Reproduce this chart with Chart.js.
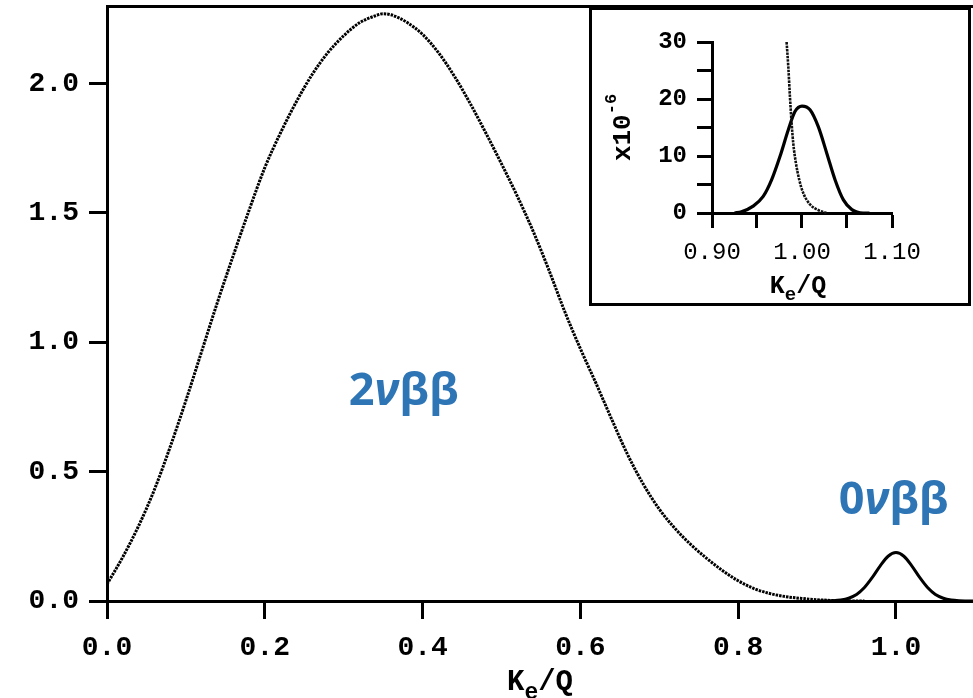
<!DOCTYPE html>
<html><head><meta charset="utf-8">
<script src="https://cdn.jsdelivr.net/npm/chart.js@4.4.1/dist/chart.umd.min.js"></script>
<style>
html,body{margin:0;padding:0;background:#fff;overflow:hidden;}
#wrap{position:relative;width:973px;height:698px;background:#fff;}
#main{position:absolute;left:0;top:0;}
#insetBox{position:absolute;left:589px;top:7px;width:382px;height:299px;border:3px solid #000;box-sizing:border-box;background:#fff;}
#inset{position:absolute;left:0;top:0;}
</style></head><body>
<div id="wrap">
<canvas id="main" width="973" height="698"></canvas>
<div id="insetBox"><canvas id="inset" width="376" height="293"></canvas></div>
</div>
<script>
// ---- main plot data (Ke/Q, arbitrary units) ----
const mainKe = [0,0.02,0.04,0.06,0.08,0.10,0.12,0.14,0.16,0.18,0.20,0.22,0.24,0.26,0.28,0.30,0.32,0.34,0.35,0.36,0.38,0.40,0.42,0.44,0.46,0.48,0.50,0.52,0.54,0.56,0.58,0.60,0.62,0.64,0.66,0.68,0.70,0.72,0.74,0.76,0.78,0.80,0.82,0.84,0.86,0.88,0.90,0.92,0.94,0.96];
const twoNuMain = [0.065,0.17,0.29,0.43,0.595,0.775,0.965,1.155,1.335,1.51,1.675,1.81,1.93,2.035,2.12,2.185,2.235,2.262,2.27,2.266,2.237,2.19,2.12,2.03,1.925,1.81,1.69,1.565,1.43,1.28,1.12,0.975,0.84,0.70,0.565,0.45,0.355,0.28,0.218,0.165,0.118,0.078,0.048,0.029,0.017,0.010,0.005,0.002,0.0005,0];
const zeroNuKe = [0.90,0.91,0.92,0.93,0.94,0.95,0.96,0.97,0.98,0.99,1.00,1.01,1.02,1.03,1.04,1.05,1.06,1.07,1.08,1.09,1.10];
const zeroNuMain = [0,0.0003,0.001,0.0037,0.0105,0.025,0.052,0.091,0.136,0.173,0.187,0.173,0.136,0.091,0.052,0.025,0.0105,0.0037,0.001,0.0003,0];
const mainXTicks = [0,0.2,0.4,0.6,0.8,1.0];
const mainYTicks = [0,0.5,1.0,1.5,2.0];

// ---- inset data (x10^-6) ----
const insetTwoNuKe = [0.9829,0.9848,0.9866,0.9885,0.9903,0.9933,0.9970,1.0014,1.0089,1.0182,1.0275];
const insetTwoNu = [30,25.6,20.4,15.7,12.2,8.7,5.8,3.5,1.5,0.5,0];
const insetZeroNuKe = [0.925,0.9327,0.9457,0.9569,0.9662,0.9755,0.9848,0.9922,1.0,1.0089,1.0182,1.0275,1.0368,1.046,1.0554,1.068,1.075];
const insetZeroNu = [0,0.2,1.2,2.9,5.8,9.9,14.6,17.8,18.75,18.1,15.1,10.5,5.8,2.3,0.6,0,0];
const insetXTicks = [0.90,0.95,1.00,1.05,1.10];
const insetXTickLabels = ['0.90','','1.00','','1.10'];
const insetYTicks = [0,5,10,15,20,25,30];
const insetYTickLabels = ['0','','10','','20','','30'];

// ---- text annotations (data coordinates) ----
const peakLabelText = [['2','ν','ββ'],['0','ν','ββ']];
const peakLabelKe = [0.376, 0.997];
const peakLabelY = [0.758, 0.336];

const MONO = '"Liberation Mono", "Courier New", monospace';
const pts = (xs, ys) => xs.map((x, i) => ({x: x, y: ys[i]}));
const noPad = s => { s.paddingTop = 0; s.paddingBottom = 0; s.paddingLeft = 0; s.paddingRight = 0; };

function drawKeQ(ctx, cx, baseline, big, small, drop) {
  const parts = [
    {t:'K', f:'bold ' + big + 'px ' + MONO, dy:0},
    {t:'e', f:'bold ' + small + 'px ' + MONO, dy:drop},
    {t:'/Q', f:'bold ' + big + 'px ' + MONO, dy:0}
  ];
  let w = 0;
  parts.forEach(p => { ctx.font = p.f; p.w = ctx.measureText(p.t).width; w += p.w; });
  let x = cx - w / 2;
  ctx.textAlign = 'left'; ctx.textBaseline = 'alphabetic';
  parts.forEach(p => { ctx.font = p.f; ctx.fillText(p.t, x, baseline + p.dy); x += p.w; });
}

const mainTextPlugin = {
  id: 'mainText',
  afterDraw(chart) {
    const ctx = chart.ctx, xs = chart.scales.x, ys = chart.scales.y, ca = chart.chartArea;
    ctx.save();
    ctx.fillStyle = '#000';
    drawKeQ(ctx, (ca.left + ca.right) / 2, ca.bottom + 89, 29, 23, 9);
    ctx.fillStyle = '#2E75B6';
    peakLabelText.forEach((parts, i) => {
      const fonts = ['bold 45px "Open Sans"', 'italic bold 45px "Open Sans"', 'bold 45px "Open Sans"'];
      let w = 0; const ws = [];
      parts.forEach((t, j) => { ctx.font = fonts[j]; ws[j] = ctx.measureText(t).width; w += ws[j]; });
      let x = xs.getPixelForValue(peakLabelKe[i]) - w / 2;
      const y = ys.getPixelForValue(peakLabelY[i]);
      ctx.textAlign = 'left'; ctx.textBaseline = 'alphabetic';
      parts.forEach((t, j) => { ctx.font = fonts[j]; ctx.fillText(t, x, y); x += ws[j]; });
    });
    ctx.restore();
  }
};

new Chart(document.getElementById('main'), {
  type: 'scatter',
  data: { datasets: [
    { data: pts(mainKe, twoNuMain), showLine: true, borderColor: '#000', borderWidth: 3, borderDash: [2.5, 1], pointRadius: 0, cubicInterpolationMode: 'monotone', fill: false },
    { data: pts(zeroNuKe, zeroNuMain), showLine: true, borderColor: '#000', borderWidth: 3, pointRadius: 0, cubicInterpolationMode: 'monotone', fill: false }
  ]},
  options: {
    responsive: false, animation: false, devicePixelRatio: 1,
    layout: { padding: { left: 0, right: 0, top: 6, bottom: 0 } },
    plugins: { legend: { display: false }, tooltip: { enabled: false } },
    scales: {
      x: {
        type: 'linear', position: 'bottom', min: 0, max: 1.0976,
        afterBuildTicks: s => { s.ticks = mainXTicks.map(v => ({ value: v })); },
        ticks: { callback: v => Number(v).toFixed(1), font: { family: MONO, size: 28, weight: 'bold' }, color: '#000', padding: 12, maxRotation: 0, autoSkip: false },
        grid: { drawOnChartArea: false, drawTicks: true, tickLength: 18, tickWidth: 3, tickColor: '#000' },
        border: { display: true, color: '#000', width: 3 },
        afterFit: s => { s.height = 97; noPad(s); }
      },
      xTop: {
        type: 'linear', position: 'top', min: 0, max: 1.0976,
        ticks: { display: false }, grid: { display: false },
        border: { display: true, color: '#000', width: 3 },
        afterFit: s => { s.height = 0; noPad(s); }
      },
      y: {
        type: 'linear', position: 'left', min: 0, max: 2.3,
        afterBuildTicks: s => { s.ticks = mainYTicks.map(v => ({ value: v })); },
        ticks: { callback: v => Number(v).toFixed(1), font: { family: MONO, size: 28, weight: 'bold' }, color: '#000', padding: 10 },
        grid: { drawOnChartArea: false, drawTicks: true, tickLength: 18, tickWidth: 3, tickColor: '#000' },
        border: { display: true, color: '#000', width: 3 },
        afterFit: s => { s.width = 107; noPad(s); }
      }
    }
  },
  plugins: [mainTextPlugin]
});

const insetTextPlugin = {
  id: 'insetText',
  afterDraw(chart) {
    const ctx = chart.ctx, ca = chart.chartArea;
    ctx.save();
    ctx.fillStyle = '#000';
    drawKeQ(ctx, (ca.left + ca.right) / 2 - 4, ca.bottom + 80, 25, 19, 7);
    // rotated y title x10^-6
    ctx.translate(38, (ca.top + ca.bottom) / 2);
    ctx.rotate(-Math.PI / 2);
    ctx.textBaseline = 'alphabetic'; ctx.textAlign = 'left';
    const f1 = 'bold 26px ' + MONO, f2 = 'bold 17px ' + MONO;
    ctx.font = f1; const w1 = ctx.measureText('x10').width;
    ctx.font = f2; const w2 = ctx.measureText('-6').width;
    const x0 = -(w1 + w2) / 2;
    ctx.font = f1; ctx.fillText('x10', x0, 0);
    ctx.font = f2; ctx.fillText('-6', x0 + w1, -14);
    ctx.restore();
  }
};

new Chart(document.getElementById('inset'), {
  type: 'scatter',
  data: { datasets: [
    { data: pts(insetTwoNuKe, insetTwoNu), showLine: true, borderColor: '#111', borderWidth: 2.6, borderDash: [2.5, 1], pointRadius: 0, cubicInterpolationMode: 'monotone', fill: false, clip: false },
    { data: pts(insetZeroNuKe, insetZeroNu), showLine: true, borderColor: '#000', borderWidth: 3.2, pointRadius: 0, cubicInterpolationMode: 'monotone', fill: false, clip: false }
  ]},
  options: {
    responsive: false, animation: false, devicePixelRatio: 1,
    layout: { padding: { left: 0, right: 76, top: 32, bottom: 0 } },
    plugins: { legend: { display: false }, tooltip: { enabled: false } },
    scales: {
      x: {
        type: 'linear', position: 'bottom', min: 0.9, max: 1.1,
        afterBuildTicks: s => { s.ticks = insetXTicks.map(v => ({ value: v })); },
        ticks: { callback: (v, i) => insetXTickLabels[i], font: { family: MONO, size: 24, weight: 'normal' }, color: '#000', padding: 10, maxRotation: 0, autoSkip: false },
        grid: { drawOnChartArea: false, drawTicks: true, tickLength: 15, tickWidth: 3, tickColor: '#000' },
        border: { display: true, color: '#000', width: 3 },
        afterFit: s => { s.height = 90; noPad(s); }
      },
      y: {
        type: 'linear', position: 'left', min: 0, max: 30,
        afterBuildTicks: s => { s.ticks = insetYTicks.map(v => ({ value: v })); },
        ticks: { callback: (v, i) => insetYTickLabels[i], font: { family: MONO, size: 24, weight: 'bold' }, color: '#000', padding: 10, autoSkip: false },
        grid: { drawOnChartArea: false, drawTicks: true, tickLength: 15, tickWidth: 3, tickColor: '#000' },
        border: { display: true, color: '#000', width: 3 },
        afterFit: s => { s.width = 120; noPad(s); }
      }
    }
  },
  plugins: [insetTextPlugin]
});
</script>
</body></html>
